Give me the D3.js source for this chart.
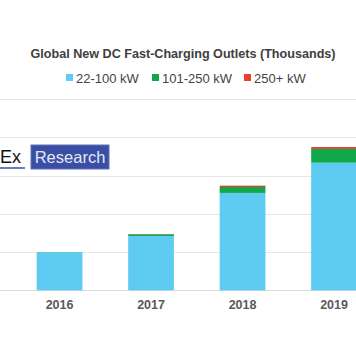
<!DOCTYPE html>
<html>
<head>
<meta charset="utf-8">
<script src="https://cdn.jsdelivr.net/npm/d3@7"></script>
<style>
html,body{margin:0;padding:0;background:#fff;overflow:hidden;}
svg{display:block;}
</style>
</head>
<body>
<svg id="chart" width="356" height="364"></svg>
<script>
// ---- data (thousands of outlets) ----
const years = ["2016", "2017", "2018", "2019"];
const kw22to100 = [19.9, 28.4, 50.9, 66.7];
const kw101to250 = [0.1, 0.9, 3.1, 7.2];
const kw250plus = [0.0, 0.1, 0.7, 1.0];
const seriesNames = ["22-100 kW", "101-250 kW", "250+ kW"];
const seriesColors = ["#5ecbf2", "#0fa94b", "#e8402c"];
const gridTicks = [0, 20, 40, 60, 80, 100];

const title = "Global New DC Fast-Charging Outlets (Thousands)";

const svg = d3.select("#chart");
const W = 356, H = 364;

// scales
const x = d3.scaleBand().domain(years).range([13.8, 379.8]).paddingInner(0.5).paddingOuter(0.25);
const y = d3.scaleLinear().domain([0, 100]).range([290.3, 99]);

// gridlines
svg.append("g").selectAll("line").data(gridTicks).join("line")
  .attr("x1", 0).attr("x2", W)
  .attr("y1", d => Math.round(y(d)) + 0.5).attr("y2", d => Math.round(y(d)) + 0.5)
  .attr("stroke", d => d === 0 ? "#dcdcdc" : "#e6e6e6")
  .attr("stroke-width", 1.2);

// watermark
const wm = svg.append("g");
wm.append("text").attr("x", 0).attr("y", 163).attr("font-family", "Liberation Sans, Arial, sans-serif")
  .attr("font-size", 18).attr("fill", "#111").text("Ex");
wm.append("line").attr("x1", 0).attr("x2", 25).attr("y1", 168).attr("y2", 168)
  .attr("stroke", "#3b4fa3").attr("stroke-width", 1.5);
wm.append("rect").attr("x", 31).attr("y", 145).attr("width", 78).attr("height", 24)
  .attr("fill", "#3a4ea3").attr("stroke", "#5f72c0").attr("stroke-width", 1);
wm.append("text").attr("x", 70).attr("y", 163).attr("text-anchor", "middle")
  .attr("font-family", "Liberation Sans, Arial, sans-serif").attr("font-size", 16.5)
  .attr("fill", "#e4e8f6").text("Research");

// stacked data
const table = years.map((yr, i) => ({ year: yr, s0: kw22to100[i], s1: kw101to250[i], s2: kw250plus[i] }));
const stack = d3.stack().keys(["s0", "s1", "s2"])(table);

svg.append("g").selectAll("g").data(stack).join("g")
  .attr("fill", (d, i) => seriesColors[i])
  .selectAll("rect").data(d => d).join("rect")
  .attr("x", d => x(d.data.year))
  .attr("width", x.bandwidth())
  .attr("y", d => y(d[1]))
  .attr("height", d => Math.max(0, y(d[0]) - y(d[1])));

// x axis labels
const xAxis = d3.axisBottom(x).tickSize(0).tickPadding(10);
const gx = svg.append("g").attr("transform", `translate(0,${y(0)})`).call(xAxis);
gx.select(".domain").remove();
gx.selectAll("text").attr("font-family", "Liberation Sans, Arial, sans-serif")
  .attr("font-size", 12.5).attr("font-weight", "bold").attr("fill", "#595959");

// title
svg.append("text").attr("x", 183).attr("y", 58).attr("text-anchor", "middle")
  .attr("font-family", "Liberation Sans, Arial, sans-serif").attr("font-size", 12.6)
  .attr("font-weight", "bold").attr("fill", "#404040").text(title);

// legend
const legendX = [66, 152, 244];
const lg = svg.append("g").selectAll("g").data(seriesNames).join("g")
  .attr("transform", (d, i) => `translate(${legendX[i]},78)`);
lg.append("rect").attr("x", 0).attr("y", -4).attr("width", 7).attr("height", 7)
  .attr("fill", (d, i) => seriesColors[i]);
lg.append("text").attr("x", 10).attr("y", 4.5)
  .attr("font-family", "Liberation Sans, Arial, sans-serif").attr("font-size", 13)
  .attr("fill", "#444").text(d => d);
</script>
</body>
</html>
